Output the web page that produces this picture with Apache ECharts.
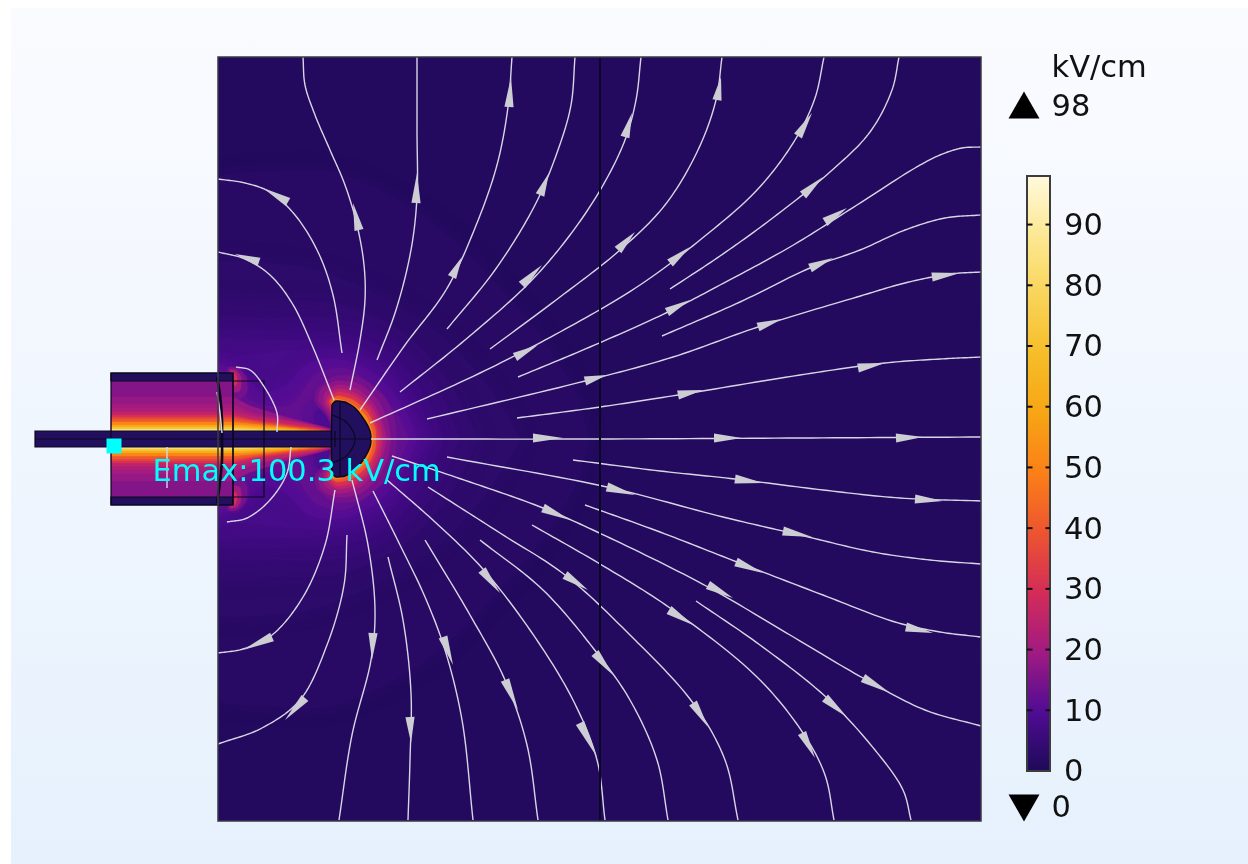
<!DOCTYPE html>
<html>
<head>
<meta charset="utf-8">
<style>
html,body{margin:0;padding:0;width:1248px;height:864px;background:#fff;overflow:hidden}
#panel{position:absolute;left:11px;top:8px;width:1237px;height:856px;background:linear-gradient(#fafbff,#e6f1fd)}
#chart{position:absolute;left:0;top:0;width:1248px;height:864px}
</style>
<script src="https://cdn.jsdelivr.net/npm/echarts@6/dist/echarts.min.js"></script>
</head>
<body>
<div id="panel"></div>
<div id="chart"></div>
<script>
// ---- colour scale (kV/cm) ----
const scaleMin = 0;
const scaleMax = 98;
const scaleColors = ['#1e0a58','#500c94','#a21a82','#d42c58','#ec5430','#fb7f18','#f7a514','#f6bd28','#f9d45a','#fce893','#fff9dc'];
const scaleTicks = [0,10,20,30,40,50,60,70,80,90];

// ---- field: iso-level outlines (upper half; the field is symmetric about the needle axis) ----
const axisY = 439;
const baseLevel = 1;
const blobLevels = [2,3,4,5,6,7,8,10,12];
const blobOutlines = [
  [[200,190],[290,170],[345,175],[430,220],[520,310],[575,390],[590,439]],
  [[200,272],[290,265],[345,280],[415,315],[475,370],[510,420],[520,439]],
  [[200,307],[280,300],[345,305],[400,330],[445,375],[480,439]],
  [[200,327],[280,318],[345,320],[395,342],[435,385],[460,439]],
  [[200,338],[280,330],[345,333],[390,352],[425,395],[445,439]],
  [[200,346],[275,340],[345,343],[385,360],[418,402],[436,439]],
  [[200,352],[245,355],[290,350],[345,350],[382,365],[412,405],[430,439]],
  [[200,362],[240,372],[262,392],[285,385],[310,362],[345,360],[378,376],[405,410],[418,439]],
  [[200,370],[236,376],[250,400],[290,405],[315,375],[345,368],[372,385],[398,415],[409,439]]
];
const cornerLevels = [14,20,30];
const cornerOutlines = [
  [[228,368],[238,368],[246,377],[247,392],[238,400],[228,395]],
  [[230,370],[237,371],[241,378],[240,390],[234,392]],
  [[231,372],[235,373],[237,380],[236,385],[233,385]]
];
const pocketLevels = [11,9];
const pocketOutlines = [
  [[305,427],[305,408],[318,400],[328,412],[332,431]],
  [[316,428],[315,414],[322,408],[330,417],[332,430]]
];
const wallLevel = 16;
const wallOutline = [[111,381],[233,381],[233,439],[111,439]];
const bandLevels = [18,20,22,25,30,35,40,50,60,70,80,90];
const bandOutlines = [
  [[112,397],[233,397],[250,406],[285,417],[320,426],[338,431]],
  [[112,404],[233,404],[250,412],[264,415],[300,422],[325,428],[335,431]],
  [[112,408],[233,408],[250,414],[272,418],[305,424],[330,431]],
  [[112,412],[233,412],[250,416],[280,420],[310,425],[332,431]],
  [[112,415],[233,415],[250,419],[280,423],[310,427],[330,431]],
  [[112,417],[233,417],[255,421],[290,426],[318,429],[328,431]],
  [[112,419],[233,419],[260,423],[300,428],[325,431]],
  [[112,422],[233,422],[264,425],[300,429],[320,431]],
  [[112,425],[240,425],[280,428],[310,431]],
  [[112,427],[235,427],[270,429],[300,431]],
  [[112,429],[240,429],[280,431]],
  [[112,430],[200,430],[230,431]]
];
const tipLevels = [14,17,20,25,30,40,50];
const tipOutlines = [
  [[332,428],[326,415],[315,402],[317,389],[335,376],[360,378],[383,395],[394,416],[397,439]],
  [[332,422],[325,410],[318,400],[322,388],[337,381],[359,384],[377,399],[387,419],[391,439]],
  [[332,417],[324,404],[325,393],[338,385],[357,389],[373,403],[382,421],[387,439]],
  [[332,413],[326,403],[329,395],[338,389],[355,393],[371,406],[380,424],[383,439]],
  [[332,410],[328,402],[331,397],[338,392],[354,396],[369,408],[377,426],[380,439]],
  [[332,406],[330,401],[333,398],[338,396],[353,400],[367,412],[375,428],[376,439]],
  [[332,404],[333,400],[338,399],[352,404],[366,416],[372,431],[373,439]]
];

// ---- device geometry ----
const conductorBands = [
  [[111,373],[233,373],[233,381],[111,381]],
  [[111,497],[233,497],[233,505],[111,505]],
  [[35,431],[340,431],[340,447],[35,447]]
];
const cylinderOutline = [[111,373],[233,373],[233,505],[111,505]];
const sleeveOutline = [[233,381],[264,381],[264,497],[233,497]];
const domeOutline = [[332,405],[336,401],[345,402],[355,408],[365,421],[370,431],[371,439],[370,447],[365,457],[355,470],[345,476],[336,477],[332,473]];
const domeArc = [[332,415],[345,421],[353,431],[355,439],[353,447],[345,457],[332,463]];
const domeLines = [[[340,402],[340,476]],[[335,431],[335,447]],[[35,439],[371,439]]];
const lensArc = [[217,377],[220,395],[222,420],[222,439],[222,460],[220,482],[217,503]];
const divider = [[600,57],[600,821]];

// ---- streamlines ----
const streamlines = [
  [[303,57],[305,85],[315,115],[330,150],[345,185],[357,225],[364,265],[365,300],[360,340],[350,390]],
  [[218,179],[245,183],[270,192],[295,215],[318,252],[333,295],[342,353]],
  [[218,252],[245,259],[270,275],[292,303],[312,345],[334,400]],
  [[417,57],[417,130],[417,197],[411,250],[396,310],[377,360]],
  [[512,57],[508,107],[497,165],[475,228],[446,290],[405,345],[360,410]],
  [[575,57],[571,105],[558,150],[535,205],[495,270],[447,329]],
  [[641,57],[636,100],[625,140],[602,187],[570,235],[530,282],[465,340],[400,392]],
  [[722,57],[716,100],[698,150],[665,205],[620,250],[560,297],[490,349]],
  [[824,57],[815,98],[795,140],[757,190],[700,240],[640,285],[560,332],[480,373],[370,423]],
  [[899,57],[892,90],[870,132],[830,172],[770,220],[720,256],[670,289]],
  [[981,147],[962,148],[940,155],[915,168],[857,205],[790,247],[720,285],[668,312],[590,347],[518,377]],
  [[981,215],[945,218],[905,230],[860,250],[810,268],[740,302],[662,336]],
  [[981,272],[950,274],[905,283],[857,297],[758,327],[673,357],[585,381],[427,419]],
  [[981,357],[940,359],[885,363],[800,375],[678,395],[600,407],[517,418]],
  [[371,439],[600,439],[800,438],[981,437]],
  [[573,460],[660,471],[735,479],[823,490],[900,498],[981,501]],
  [[447,457],[607,487],[723,517],[800,535],[873,552],[930,560],[981,564]],
  [[585,505],[660,532],[737,562],[823,595],[895,622],[940,632],[981,637]],
  [[392,456],[470,482],[543,508],[610,538],[708,587],[790,635],[863,678],[925,710],[981,726]],
  [[532,525],[600,564],[670,608],[757,677],[803,733],[825,775],[834,820]],
  [[696,601],[760,645],[827,698],[875,750],[903,790],[911,820]],
  [[373,491],[400,545],[425,597],[445,650],[462,720],[473,820]],
  [[352,480],[368,545],[375,610],[371,660],[352,735],[339,820]],
  [[335,490],[325,545],[303,597],[272,635],[243,649],[218,653]],
  [[347,535],[344,585],[327,645],[300,700],[262,728],[218,744]],
  [[388,557],[403,620],[411,693],[410,760],[408,820]],
  [[425,540],[470,615],[505,680],[527,745],[538,820]],
  [[387,480],[435,522],[482,568],[530,630],[573,700],[597,760],[605,820]],
  [[480,540],[543,590],[597,653],[630,700],[657,760],[668,820]],
  [[428,487],[500,533],[565,575],[630,635],[693,703],[725,760],[738,820]],
  [[236,367],[250,370],[263,385],[277,413],[277,432]],
  [[227,522],[247,518],[270,500],[287,473],[291,447]],
  [[217,392],[220,413],[222,433]],
  [[167,447],[167,488]]
];
// arrow heads: base x, base y, tip x, tip y
const arrowHeads = [
  [288,202,263,188],[259,262,235,254],[359,230,353,203],[416,203,417,173],
  [452,277,462,257],[509,107,511,77],[540,195,549,173],[625,137,632,113],
  [522,285,542,265],[717,100,721,77],[618,250,635,232],[798,136,812,113],
  [670,263,690,247],[515,357,538,345],[803,195,823,177],[825,222,847,208],
  [667,312,690,300],[810,268,833,258],[932,277,960,273],[758,327,782,319],
  [585,381,607,375],[858,368,885,363],[678,395,703,390],[533,438,563,438],
  [714,438,742,438],[896,438,923,437],[735,479,763,483],[915,499,943,501],
  [607,487,635,495],[783,531,812,537],[736,562,763,573],[906,627,933,633],
  [543,508,570,520],[708,585,733,598],[863,678,890,693],[669,610,693,625],
  [802,733,815,758],[825,698,847,717],[272,637,243,650],[305,698,285,720],
  [373,633,372,660],[410,717,411,743],[443,637,453,665],[505,680,518,710],
  [482,570,500,593],[580,723,597,757],[595,653,613,675],[693,703,708,727],
  [565,575,588,590]
];

// ---- texts and markers ----
const unitText = 'kV/cm';
const emaxText = 'Emax:100.3 kV/cm';
const maxMark = [1024,105,98];
const minMark = [1024,808,0];
const emaxPoint = [114,446];

// ---- build ----
const mirrorY = p => [p[0], 2*axisY - p[1]];
const closedHalf = pts => pts.concat(pts.slice().reverse().map(mirrorY));
const flip = pts => pts.map(mirrorY);
const leftClosed = pts => [[200,axisY]].concat(closedHalf(pts));

function polygons(levels, outlines, makeShape, smooth, gridIndex, name, z, blur){
  const shapes = outlines.map(makeShape);
  return {
    type:'custom', name, xAxisIndex:gridIndex, yAxisIndex:gridIndex, clip:true, silent:true, z,
    animation:false, encode:{x:-1,y:-1},
    data: levels.map((l,i)=>[l,i]),
    renderItem(params, api){
      const pts = shapes[params.dataIndex].map(p=>api.coord(p));
      const c = api.visual('color');
      return {type:'polygon', shape:{points:pts, smooth:smooth},
        style:{fill:c, shadowBlur:blur, shadowColor:c}};
    }
  };
}

const fieldSeries = [
  polygons([baseLevel], [[[218,57],[981,57],[981,821],[218,821]]], s=>s, 0, 1, 'base', 1, 0),
  polygons(blobLevels, blobOutlines, leftClosed, 0.3, 1, 'blob', 2, 16),
  polygons(cornerLevels, cornerOutlines, s=>s, 0.25, 1, 'corner', 3, 3),
  polygons(cornerLevels, cornerOutlines, flip, 0.25, 1, 'cornerLow', 3, 3),
  polygons(pocketLevels, pocketOutlines, s=>s, 0.25, 1, 'pocket', 4, 4),
  polygons(pocketLevels, pocketOutlines, flip, 0.25, 1, 'pocketLow', 4, 4),
  polygons([wallLevel], [wallOutline], closedHalf, 0, 0, 'wall', 5, 0),
  polygons(bandLevels, bandOutlines, closedHalf, 0, 0, 'band', 6, 2),
  polygons(tipLevels, tipOutlines, closedHalf, 0.25, 0, 'tip', 7, 2)
];
const fieldIdx = fieldSeries.map((_,i)=>i);

const geometrySeries = {
  type:'custom', name:'geometry', xAxisIndex:0, yAxisIndex:0, silent:true, animation:false, z:8, clip:false,
  encode:{x:-1,y:-1},
  data:[0],
  renderItem(params, api){
    const P = a=>a.map(p=>api.coord(p));
    const dark = '#22105f', ink='#0a0820';
    const children = [];
    conductorBands.forEach(b=>children.push({type:'polygon',shape:{points:P(b)},style:{fill:dark,stroke:ink,lineWidth:1.2}}));
    children.push({type:'polygon',shape:{points:P(sleeveOutline)},style:{fill:'none',stroke:ink,lineWidth:1.2}});
    children.push({type:'polygon',shape:{points:P(cylinderOutline)},style:{fill:'none',stroke:ink,lineWidth:1.2}});
    children.push({type:'polygon',shape:{points:P(domeOutline),smooth:0.2},style:{fill:dark,stroke:ink,lineWidth:1.5}});
    children.push({type:'polyline',shape:{points:P(domeArc),smooth:0.3},style:{fill:'none',stroke:ink,lineWidth:1.2}});
    domeLines.forEach(l=>children.push({type:'polyline',shape:{points:P(l)},style:{fill:'none',stroke:ink,lineWidth:1.2}}));
    children.push({type:'polyline',shape:{points:P(lensArc),smooth:0.3},style:{fill:'none',stroke:ink,lineWidth:2.6}});
    return {type:'group',children};
  }
};

// stroke a centripetal Catmull-Rom curve through the read points (screen space)
function curve(p){
  const pts=[[2*p[0][0]-p[1][0],2*p[0][1]-p[1][1]]].concat(p,[[2*p[p.length-1][0]-p[p.length-2][0],2*p[p.length-1][1]-p[p.length-2][1]]]);
  const out=[p[0]];
  const lerp=(a,b,ta,tb,t)=>[0,1].map(j=>(tb===ta)?a[j]:a[j]+(b[j]-a[j])*(t-ta)/(tb-ta));
  for(let i=1;i<pts.length-2;i++){
    const [a,b,c,d]=[pts[i-1],pts[i],pts[i+1],pts[i+2]];
    const t0=0,t1=t0+Math.sqrt(Math.hypot(b[0]-a[0],b[1]-a[1])),t2=t1+Math.sqrt(Math.hypot(c[0]-b[0],c[1]-b[1])),t3=t2+Math.sqrt(Math.hypot(d[0]-c[0],d[1]-c[1]));
    for(let k=1;k<=16;k++){
      const t=t1+(t2-t1)*k/16;
      const a1=lerp(a,b,t0,t1,t),a2=lerp(b,c,t1,t2,t),a3=lerp(c,d,t2,t3,t);
      const b1=lerp(a1,a2,t0,t2,t),b2=lerp(a2,a3,t1,t3,t);
      out.push(lerp(b1,b2,t1,t2,t));
    }
  }
  return out;
}
const streamSeries = {
  type:'custom', name:'streamlines', xAxisIndex:0, yAxisIndex:0, silent:true, animation:false, z:9, clip:false,
  encode:{x:-1,y:-1},
  data:streamlines.map((s,i)=>[i]),
  renderItem(params, api){
    const pts = curve(streamlines[params.dataIndex].map(p=>api.coord(p)));
    return {type:'polyline',shape:{points:pts},style:{fill:'none',stroke:'#d8d6e6',lineWidth:1.4,lineJoin:'round'}};
  }
};

const dividerSeries = {
  type:'line', name:'divider', xAxisIndex:0, yAxisIndex:0, data:divider, symbol:'none', silent:true, animation:false, z:10,
  lineStyle:{color:'#0b0826',width:2}
};

const arrowSeries = {
  type:'custom', name:'arrows', xAxisIndex:0, yAxisIndex:0, silent:true, animation:false, z:11, clip:false,
  encode:{x:-1,y:-1},
  data:arrowHeads.map((a,i)=>[i]),
  renderItem(params, api){
    const a = arrowHeads[params.dataIndex];
    const b = api.coord([a[0],a[1]]), t = api.coord([a[2],a[3]]);
    const dx=t[0]-b[0], dy=t[1]-b[1], len=Math.hypot(dx,dy), hw=4.6;
    const nx=-dy/len*hw, ny=dx/len*hw;
    return {type:'polygon',shape:{points:[[b[0]+nx,b[1]+ny],t,[b[0]-nx,b[1]-ny]]},
      style:{fill:'#cdcdd4'}};
  }
};

// colour-bar ticks and their labels, placed through the bar's own value axis
const tickSeries = {
  type:'custom', name:'scaleTicks', xAxisIndex:2, yAxisIndex:2, silent:true, animation:false, z:30, zlevel:1, clip:false,
  encode:{x:-1,y:-1},
  data:scaleTicks.map((v,i)=>[i]),
  renderItem(params, api){
    const v = scaleTicks[params.dataIndex], l = api.coord([0,v]), r = api.coord([1,v]);
    const kids = [{type:'text',x:r[0]+14,y:l[1]+2.5,style:{text:String(v),fill:'#111',fontSize:30.5,fontFamily:'DejaVu Sans',verticalAlign:'middle',align:'left'}}];
    if(v>0){
      kids.push({type:'rect',shape:{x:l[0],y:l[1]-1,width:5.5,height:2},style:{fill:'#111'}});
      kids.push({type:'rect',shape:{x:r[0]-4.5,y:r[1]-1,width:4.5,height:2},style:{fill:'#111'}});
    }
    return {type:'group',children:kids};
  }
};

const markSeries = {
  type:'scatter', name:'rangeMarks', xAxisIndex:0, yAxisIndex:0, silent:true, animation:false, z:12,
  data:[
    {value:[maxMark[0],maxMark[1]],symbolRotate:0,label:{formatter:String(maxMark[2]),offset:[0,3]}},
    {value:[minMark[0],minMark[1]],symbolRotate:180,label:{formatter:String(minMark[2]),offset:[0,1]}}
  ],
  symbol:'triangle', symbolSize:[31,27], itemStyle:{color:'#000',opacity:1},
  label:{show:true,position:'right',distance:12,color:'#111',fontSize:30.5,fontFamily:'DejaVu Sans'}
};
const textSeries = {
  type:'scatter', name:'texts', xAxisIndex:0, yAxisIndex:0, silent:true, animation:false, z:13,
  symbolSize:1, itemStyle:{color:'rgba(0,0,0,0)',opacity:1},
  data:[
    {value:[1051,69],label:{formatter:unitText,color:'#111'}},
    {value:[152,473],label:{formatter:emaxText,color:'#00ffff'}}
  ],
  label:{show:true,position:'right',distance:0,fontSize:30.5,fontFamily:'DejaVu Sans'}
};
const emaxSeries = {
  type:'scatter', name:'emaxPoint', xAxisIndex:0, yAxisIndex:0, silent:true, animation:false, z:12,
  symbol:'rect', symbolSize:15, itemStyle:{color:'#00ffff',opacity:1}, data:[emaxPoint]
};

const hidden = {show:false};
const option = {
  animation:false,
  grid:[
    {left:0,top:0,width:1248,height:864,show:false},
    {left:218,top:57,width:763,height:764,show:true,borderColor:'#3a3a44',borderWidth:1.5,backgroundColor:'transparent',z:20},
    {left:1027,top:176,width:23,height:595,show:true,borderColor:'#3c3c3c',borderWidth:2,backgroundColor:'transparent',z:20}
  ],
  xAxis:[
    Object.assign({type:'value',gridIndex:0,min:0,max:1248},hidden),
    Object.assign({type:'value',gridIndex:1,min:218,max:981},hidden),
    Object.assign({type:'value',gridIndex:2,min:0,max:1},hidden)
  ],
  yAxis:[
    Object.assign({type:'value',gridIndex:0,min:0,max:864,inverse:true},hidden),
    Object.assign({type:'value',gridIndex:1,min:57,max:821,inverse:true},hidden),
    Object.assign({type:'value',gridIndex:2,min:scaleMin,max:scaleMax},hidden)
  ],
  visualMap:{
    type:'continuous',min:scaleMin,max:scaleMax,dimension:0,seriesIndex:fieldIdx,
    left:1027,top:176,itemWidth:23,itemHeight:595,padding:0,text:null,showLabel:false,calculable:false,
    realtime:false,hoverLink:false,inRange:{color:scaleColors},z:1
  },
  series: fieldSeries.concat([geometrySeries,streamSeries,dividerSeries,arrowSeries,tickSeries,markSeries,emaxSeries,textSeries])
};
const chart = echarts.init(document.getElementById('chart'),null,{renderer:'canvas',width:1248,height:864});
chart.setOption(option);
</script>
</body>
</html>
